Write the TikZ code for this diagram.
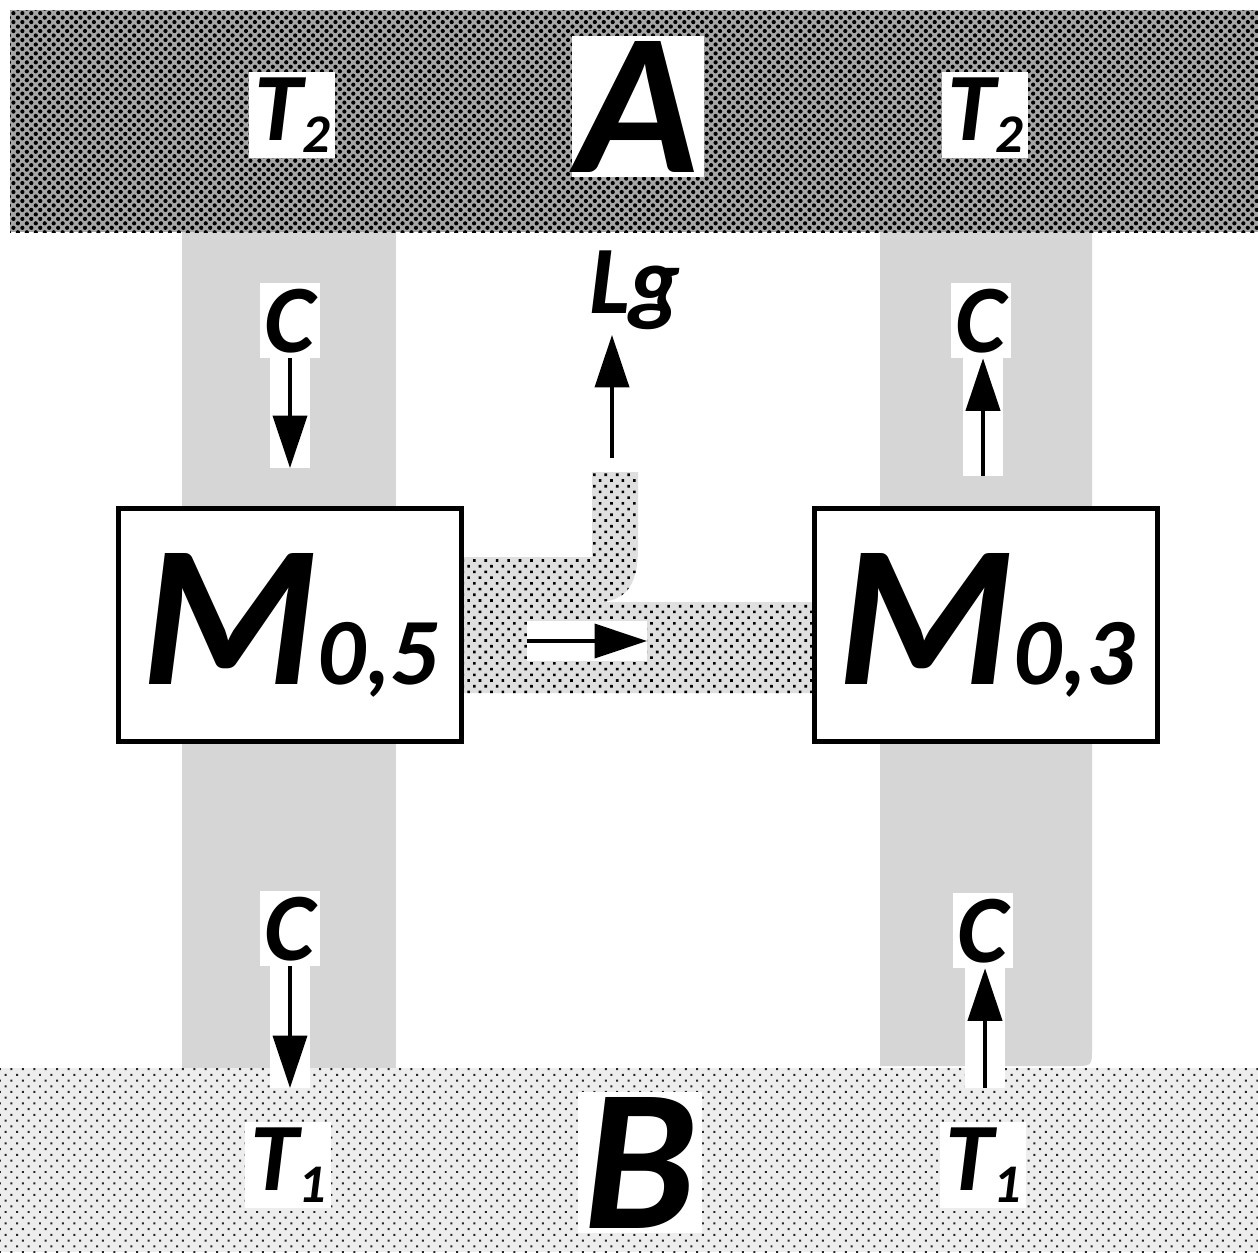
\documentclass[tikz,border=0pt]{standalone}
\usepackage{fontspec}
\setmainfont{Carlito}
\usetikzlibrary{arrows.meta,patterns.meta}
\newcommand{\lblfont}{\fontsize{55}{55}\selectfont\bfseries\itshape}
\newcommand{\bigfont}{\fontsize{115}{115}\selectfont\bfseries\itshape}
\newcommand{\tidx}[1]{\raisebox{-0.13em}{\fontsize{31}{31}\selectfont #1}}
\newcommand{\midx}[1]{{\fontsize{54}{54}\selectfont #1}}
\tikzset{
  topband/.style={fill=black!35, postaction={pattern={Dots[radius=1.2pt,distance=3.6pt,angle=45]}, pattern color=black}},
  botband/.style={fill=gray!14, postaction={pattern={Dots[radius=0.8pt,distance=4.6pt,angle=45]}, pattern color=black!85}},
  pipe/.style={fill=gray!25, postaction={pattern={Dots[radius=1.05pt,distance=4.6pt,angle=45]}, pattern color=black}},
  column/.style={fill=gray!32},
  unit/.style={draw, line width=0.09cm, fill=white, minimum width=6.86cm, minimum height=4.66cm, inner sep=0pt, font=\bigfont},
  lbl/.style={fill=white, inner sep=3pt, anchor=base, font=\lblfont},
  biglbl/.style={fill=white, inner sep=3pt, anchor=base, font=\bigfont},
  flow/.style={line width=0.08cm, -{Triangle[length=1.05cm,width=0.68cm]}, preaction={draw=white, line width=0.8cm, -}}
}
\begin{document}
\begin{tikzpicture}[x=0.02cm, y=-0.02cm]
  \useasboundingbox (0,0) rectangle (1258,1252);
  \fill[white] (0,0) rectangle (1258,1252);

  % columns and the branch between the units
  \fill[column] (182,225) rectangle (396,1075);
  \fill[column] (880,225) -- (1092,225) -- (1092,1048) .. controls (1092,1066) .. (1074,1066) -- (880,1066) -- cycle;
  \fill[pipe] (463,557) -- (592,557) -- (592,472) -- (638,472) -- (638,548)
    .. controls (638,588) and (624,602) .. (596,602) -- (815,602) -- (815,693) -- (463,693) -- cycle;

  % reservoirs
  \fill[topband] (10,10) rectangle (1258,232);
  \fill[botband] (0,1068) rectangle (1258,1252);

  % units
  \node[unit] (mL) at (290,625) {M\midx{0,5}};
  \node[unit] (mR) at (986,625) {M\midx{0,3}};

  % labels
  \node[lbl] (tTL) at (292,140) {T\tidx{2}};
  \node[biglbl] (resA) at (638,172) {A};
  \node[lbl] (tTR) at (985,140) {T\tidx{2}};
  \node[lbl] (cTL) at (290,352) {C};
  \node[lbl] (cTR) at (981,352) {C};
  \node[lbl, fill=none] (lg) at (635,313) {Lg};
  \node[lbl] (cBL) at (290,960) {C};
  \node[lbl] (cBR) at (983,962) {C};
  \node[lbl] (tBL) at (288,1190) {T\tidx{1}};
  \node[lbl] (tBR) at (983,1190) {T\tidx{1}};
  \node[biglbl] (resB) at (640,1228) {B};

  % arrow ends
  \coordinate (eTL) at (290,468);
  \coordinate (sTR) at (983,476);
  \coordinate (eBL) at (290,1088);
  \coordinate (sBR) at (985,1088);
  \coordinate (stub) at (612,458);
  \coordinate (hs) at (527,641);
  \coordinate (he) at (647,641);

  \draw[flow] (cTL.south) -- (eTL);
  \draw[flow] (sTR) -- (cTR.south -| sTR);
  \draw[flow] (cBL.south) -- (eBL);
  \draw[flow] (sBR) -- (cBR.south -| sBR);
  \draw[flow] (stub) -- (lg.south -| stub);
  \draw[flow] (hs) -- (he);
\end{tikzpicture}
\end{document}
